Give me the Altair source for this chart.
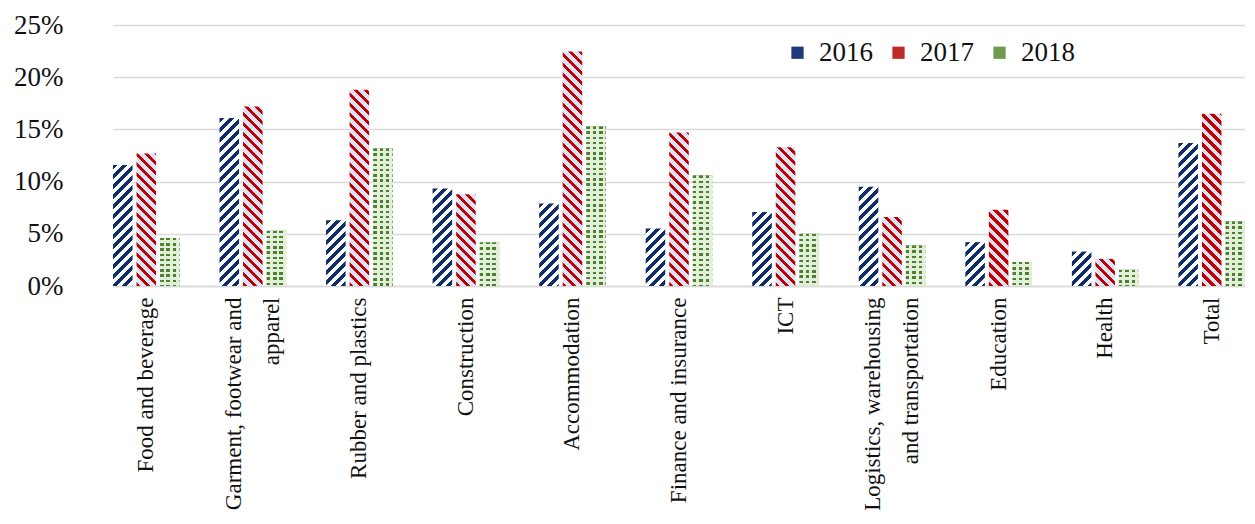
import altair as alt
import pandas as pd

# ---------------- data ----------------
categories = [
    "Food and beverage",
    "Garment, footwear and apparel",
    "Rubber and plastics",
    "Construction",
    "Accommodation",
    "Finance and insurance",
    "ICT",
    "Logistics, warehousing and transportation",
    "Education",
    "Health",
    "Total",
]
years = ["2016", "2017", "2018"]
share_2016 = [0.116, 0.161, 0.063, 0.0935, 0.079, 0.055, 0.071, 0.095, 0.042, 0.033, 0.137]
share_2017 = [0.127, 0.172, 0.188, 0.088, 0.2245, 0.147, 0.133, 0.066, 0.073, 0.026, 0.165]
share_2018 = [0.046, 0.053, 0.132, 0.042, 0.153, 0.106, 0.050, 0.039, 0.023, 0.0155, 0.062]
y_ticks = [0, 0.05, 0.10, 0.15, 0.20, 0.25]
wrapped_labels = {
    "Garment, footwear and apparel": ["Garment, footwear and", "apparel"],
    "Logistics, warehousing and transportation": ["Logistics, warehousing", "and transportation"],
}

series = {"2016": share_2016, "2017": share_2017, "2018": share_2018}
rows = []
for i, c in enumerate(categories):
    for y in years:
        rows.append({"category": c, "year": y, "value": series[y][i]})
df = pd.DataFrame(rows)

# ---------------- layout / style ----------------
PLOT_W, PLOT_H = 1150, 261
Y_MAX = 0.25
X_RANGE = [18, PLOT_W]
PAD_IN, SUB_PAD = 0.375, 0.17
step = (X_RANGE[1] - X_RANGE[0]) / (len(categories) - PAD_IN)
bar_w = step * (1 - PAD_IN) / (3 - SUB_PAD) * (1 - SUB_PAD)
LINE_H = 38

FONT = "Liberation Serif"
TEXT = "#111111"
GRID = "#d9d9d9"
NAVY, WHITE = "#0f2d6b", "#ffffff"
RED, LIGHT_BLUE = "#c00000", "#dae3f3"
GREEN, LIGHT_GREEN = "#4e7f30", "#e2efd9"


def r4(v):
    return round(float(v), 4)


def band_stops(n, frac, on, off):
    stops = []
    i = 0
    while i < n:
        o0 = min(i / n, 1.0)
        o1 = min((i + frac) / n, 1.0)
        o2 = min((i + 1) / n, 1.0)
        stops += [
            {"offset": r4(o0), "color": on},
            {"offset": r4(o1), "color": on},
            {"offset": r4(o1), "color": off},
            {"offset": r4(o2), "color": off},
        ]
        i += 1
    return stops


def diag_stripes(h_px, period, frac, on, off, direction):
    w = bar_w
    h = max(h_px, 1.0)
    n = (w + h) / period
    k = (w + h) / (w * w + h * h)
    a, b = w * k, h * k
    if direction == "/":
        coords = {"x1": 0, "y1": 0, "x2": r4(a), "y2": r4(b)}
    else:
        coords = {"x1": 0, "y1": 1, "x2": r4(a), "y2": r4(1 - b)}
    return {"gradient": "linear", **coords, "stops": band_stops(n, frac, on, off)}


def row_stripes(h_px, period, frac, on, off):
    n = max(h_px, 1.0) / period
    return {"gradient": "linear", "x1": 0, "y1": 0, "x2": 0, "y2": 1,
            "stops": band_stops(n, frac, on, off)}


def col_stripes(period, frac, on, off):
    n = bar_w / period
    return {"gradient": "linear", "x1": 0, "y1": 0, "x2": 1, "y2": 0,
            "stops": band_stops(n, frac, on, off)}


# label expression for wrapped category names
expr = "datum.label"
for key, lines in reversed(list(wrapped_labels.items())):
    arr = "[" + ", ".join("'" + s + "'" for s in lines) + "]"
    expr = f"datum.value == '{key}' ? {arr} : ({expr})"
wrap_test = " || ".join(f"datum.value == '{k}'" for k in wrapped_labels)

x_enc = alt.X(
    "category:N",
    sort=categories,
    scale=alt.Scale(domain=categories, range=X_RANGE, paddingInner=PAD_IN, paddingOuter=0),
    axis=alt.Axis(
        title=None, labelAngle=270, labelFont=FONT, labelFontSize=23, labelColor=TEXT,
        labelPadding=11, labelLimit=400, labelLineHeight=LINE_H, labelExpr=expr,
        labelOffset={"condition": {"test": wrap_test, "value": -LINE_H / 2}, "value": 0},
        ticks=False, domainColor=GRID, domainWidth=1.5, grid=False,
    ),
)
xo_enc = alt.XOffset("year:N", scale=alt.Scale(domain=years, paddingInner=SUB_PAD, paddingOuter=0))
y_enc = alt.Y(
    "value:Q",
    scale=alt.Scale(domain=[0, Y_MAX], nice=False),
    axis=alt.Axis(
        title=None, values=y_ticks, format=".0%", labelFont=FONT, labelFontSize=27,
        labelColor=TEXT, labelPadding=32, ticks=False, domain=False,
        grid=True, gridColor=GRID, gridWidth=1.5,
    ),
)

base = alt.Chart(df).encode(x=x_enc, xOffset=xo_enc, y=y_enc)

layers = []
# legend carrier (no visible marks)
layers.append(
    base.transform_filter("datum.value < 0").mark_bar().encode(
        color=alt.Color(
            "year:N",
            scale=alt.Scale(domain=years, range=["#1f3b7a", "#c0282a", "#6f9a50"]),
            legend=alt.Legend(
                title=None, orient="none", legendX=689, legendY=14, direction="horizontal",
                symbolType="square", symbolSize=150, symbolStrokeWidth=0, symbolOpacity=1,
                labelFont=FONT, labelFontSize=27, labelColor=TEXT, labelOffset=8,
                columnPadding=12, padding=0,
            ),
        )
    )
)

for i, c in enumerate(categories):
    for y in years:
        v = series[y][i]
        h = v / Y_MAX * PLOT_H
        filt = (alt.datum.category == c) & (alt.datum.year == y)
        if y == "2016":
            layers.append(base.transform_filter(filt).mark_bar(
                fill=diag_stripes(h, 10, 0.5, NAVY, WHITE, "/")))
        elif y == "2017":
            layers.append(base.transform_filter(filt).mark_bar(
                fill=diag_stripes(h, 10, 0.42, RED, LIGHT_BLUE, "\\")))
        else:
            layers.append(base.transform_filter(filt).mark_bar(
                fill=row_stripes(h, 5.2, 0.45, GREEN, LIGHT_GREEN)))
            layers.append(base.transform_filter(filt).mark_bar(
                fill=col_stripes(6.4, 0.55, "rgba(226,239,217,0)", LIGHT_GREEN)))

chart = (
    alt.layer(*layers)
    .properties(width=PLOT_W, height=PLOT_H,
                padding={"left": 5, "top": 3, "right": 0, "bottom": 0})
    .configure_view(stroke=None)
)

chart.save("out.html", embed_options={"renderer": "svg", "actions": False})
